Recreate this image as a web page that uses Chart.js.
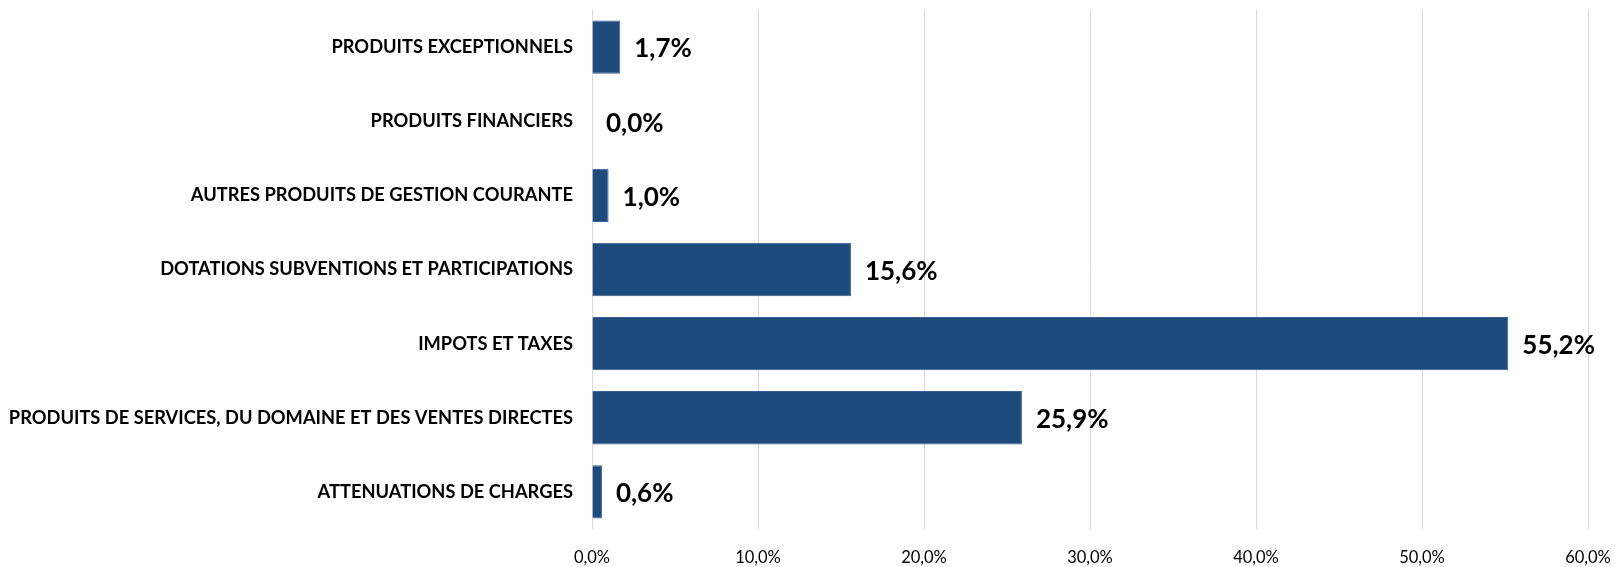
<!DOCTYPE html>
<html>
<head>
<meta charset="utf-8">
<script src="https://cdn.jsdelivr.net/npm/chart.js@4.4.1/dist/chart.umd.min.js"></script>
<style>
  html, body { margin: 0; padding: 0; background: #fff; }
  #wrap { width: 1615px; height: 567px; position: relative; }
</style>
</head>
<body>
<div id="wrap"><canvas id="chart"></canvas></div>
<script>
// Categories, top to bottom as in the picture
const categories = [
    'PRODUITS EXCEPTIONNELS',
    'PRODUITS FINANCIERS',
    'AUTRES PRODUITS DE GESTION COURANTE',
    'DOTATIONS SUBVENTIONS ET PARTICIPATIONS',
    'IMPOTS ET TAXES',
    'PRODUITS DE SERVICES, DU DOMAINE ET DES VENTES DIRECTES',
    'ATTENUATIONS DE CHARGES'
];

// Share of each product line, in percent
const shares = [1.7, 0.0, 1.0, 15.6, 55.2, 25.9, 0.6];

// X axis ticks
const tickValues = [0, 10, 20, 30, 40, 50, 60];

const FONT = "Lato, 'Liberation Sans', Arial, sans-serif";
const BAR_COLOR = '#1F4A7C';

function frPercent(v) {
    return v.toFixed(1).replace('.', ',') + '%';
}

// Draws the value next to the end of each bar
const valueLabels = {
    id: 'valueLabels',
    afterDatasetsDraw(chart) {
        const ctx = chart.ctx;
        const meta = chart.getDatasetMeta(0);
        ctx.save();
        ctx.font = "bold 26px " + FONT;
        ctx.fillStyle = '#000';
        ctx.textAlign = 'left';
        ctx.textBaseline = 'middle';
        meta.data.forEach((bar, i) => {
            ctx.fillText(frPercent(shares[i]), bar.x + 14, bar.y + 2);
        });
        ctx.restore();
    }
};

const ctx = document.getElementById('chart').getContext('2d');
new Chart(ctx, {
    type: 'bar',
    data: {
        labels: categories,
        datasets: [{
            data: shares,
            backgroundColor: BAR_COLOR,
            borderColor: '#3A6194',
            borderWidth: 1,
            barPercentage: 0.72,
            categoryPercentage: 1.0
        }]
    },
    options: {
        indexAxis: 'y',
        responsive: true,
        maintainAspectRatio: false,
        animation: false,
        layout: { padding: { top: 10, right: 27, bottom: 0, left: 0 } },
        plugins: {
            legend: { display: false },
            tooltip: { enabled: false }
        },
        scales: {
            x: {
                min: 0,
                max: 60,
                afterBuildTicks: (scale) => {
                    scale.ticks = tickValues.map(v => ({ value: v }));
                },
                afterFit: (scale) => {
                    scale.height = 38;
                    scale.paddingLeft = 0;
                    scale.paddingRight = 0;
                },
                grid: { color: '#D9D9D9', lineWidth: 1, drawTicks: false },
                border: { display: false },
                ticks: {
                    padding: 19,
                    color: '#000',
                    font: { family: FONT, size: 16.5 },
                    callback: (v) => frPercent(v)
                }
            },
            y: {
                afterFit: (scale) => {
                    scale.width = 592;
                    scale.paddingTop = 0;
                    scale.paddingBottom = 0;
                },
                grid: { display: false, drawTicks: false },
                border: { display: false },
                ticks: {
                    padding: 19,
                    color: '#000',
                    font: { family: FONT, size: 18.3, weight: 'bold' }
                }
            }
        }
    },
    plugins: [valueLabels]
});
</script>
</body>
</html>
